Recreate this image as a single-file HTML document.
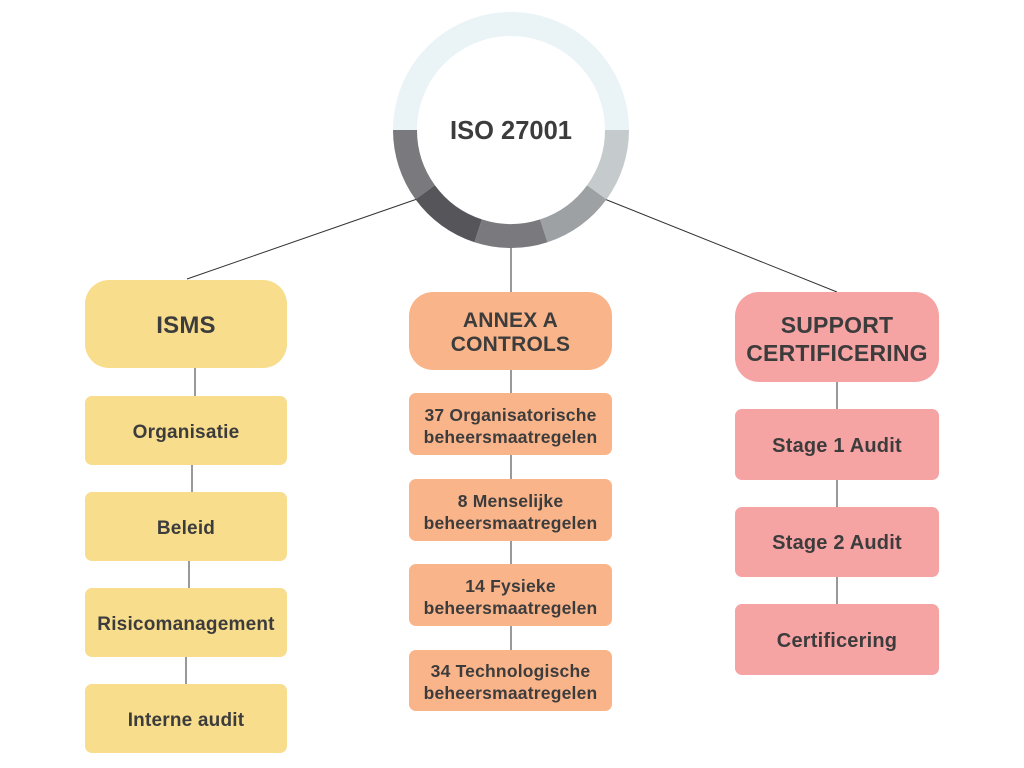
<!DOCTYPE html><html><head><style>
body{margin:0;width:1024px;height:768px;background:#fff;position:relative;font-family:"Liberation Sans",sans-serif;overflow:hidden}
.b{position:absolute;display:flex;align-items:center;justify-content:center;text-align:center;font-weight:bold;color:#3d3c3c;font-size:19px;line-height:21px;border-radius:7px;letter-spacing:0.2px;box-sizing:border-box;padding-top:3px}
.y{background:#f7dd8c}.o{background:#f9b48a}.p{background:#f6a3a4}
.h{font-size:23px;line-height:28px;border-radius:24px}
</style></head><body>
<svg width="1024" height="768" style="position:absolute;left:0;top:0">
<g stroke="#333" stroke-width="1">
<line x1="420" y1="198" x2="187" y2="279"/><line x1="511" y1="245" x2="511" y2="292"/><line x1="602" y1="198" x2="837" y2="292"/>
<line x1="195" y1="368" x2="195" y2="396"/><line x1="192" y1="465" x2="192" y2="492"/><line x1="189" y1="561" x2="189" y2="588"/><line x1="186" y1="657" x2="186" y2="684"/>
<line x1="511" y1="370" x2="511" y2="650"/>
<line x1="837" y1="382" x2="837" y2="604"/>
</g>
<g fill="none" stroke-width="24">
<path d="M405,130 A106,106 0 0 1 617,130" stroke="#eaf4f6"/>
<path d="M405,130 A106,106 0 0 0 425.2,192.3" stroke="#7a7a7e"/>
<path d="M425.2,192.3 A106,106 0 0 0 478.2,230.8" stroke="#56555a"/>
<path d="M478.2,230.8 A106,106 0 0 0 543.8,230.8" stroke="#7a7a7e"/>
<path d="M543.8,230.8 A106,106 0 0 0 596.8,192.3" stroke="#9da1a4"/>
<path d="M596.8,192.3 A106,106 0 0 0 617,130" stroke="#c5cbcd"/>
</g>
<text x="511" y="139" text-anchor="middle" font-family="Liberation Sans" font-weight="bold" font-size="25.5" fill="#3d3c3c">ISO 27001</text>
</svg>
<div class="b y h" style="left:85px;top:280px;width:202px;height:88px;font-size:24px">ISMS</div>
<div class="b y" style="left:85px;top:396px;width:202px;height:69px">Organisatie</div>
<div class="b y" style="left:85px;top:492px;width:202px;height:69px">Beleid</div>
<div class="b y" style="left:85px;top:588px;width:202px;height:69px">Risicomanagement</div>
<div class="b y" style="left:85px;top:684px;width:202px;height:69px">Interne audit</div>
<div class="b o h" style="left:409px;top:292px;width:203px;height:78px;font-size:21px;line-height:24px">ANNEX A<br>CONTROLS</div>
<div class="b o" style="left:409px;top:393px;width:203px;height:62px;font-size:17.5px;line-height:22px">37 Organisatorische<br>beheersmaatregelen</div>
<div class="b o" style="left:409px;top:479px;width:203px;height:62px;font-size:17.5px;line-height:22px">8 Menselijke<br>beheersmaatregelen</div>
<div class="b o" style="left:409px;top:564px;width:203px;height:62px;font-size:17.5px;line-height:22px">14 Fysieke<br>beheersmaatregelen</div>
<div class="b o" style="left:409px;top:650px;width:203px;height:61px;font-size:17.5px;line-height:22px">34 Technologische<br>beheersmaatregelen</div>
<div class="b p h" style="left:735px;top:292px;width:204px;height:90px">SUPPORT<br>CERTIFICERING</div>
<div class="b p" style="left:735px;top:409px;width:204px;height:71px;font-size:20px">Stage 1 Audit</div>
<div class="b p" style="left:735px;top:507px;width:204px;height:70px;font-size:20px">Stage 2 Audit</div>
<div class="b p" style="left:735px;top:604px;width:204px;height:71px;font-size:20px">Certificering</div>
</body></html>
